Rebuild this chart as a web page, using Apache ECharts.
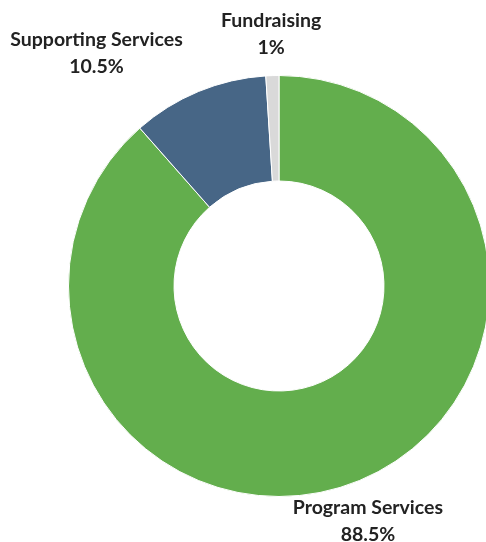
<!DOCTYPE html>
<html>
<head>
<meta charset="utf-8">
<script src="https://cdn.jsdelivr.net/npm/echarts@6/dist/echarts.min.js"></script>
<style>
html,body{margin:0;padding:0;background:#fff;}
#main{width:486px;height:542px;}
</style>
</head>
<body>
<div id="main"></div>
<script>
const categories = ['Program Services', 'Supporting Services', 'Fundraising'];
const values = [88.5, 10.5, 1];
const colors = ['#63ae4d', '#476686', '#d9d9d9'];

const CX = 279, CY = 286, R_OUT = 210.5, R_IN = 105, LABEL_DIST = 41;

const total = values.reduce((a, b) => a + b, 0);
function midAngle(i) {
  let cum = 0;
  for (let k = 0; k < i; k++) cum += values[k];
  return ((cum + values[i] / 2) / total) * 2 * Math.PI; // clockwise from top
}

const chart = echarts.init(document.getElementById('main'), null, {renderer: 'canvas'});
chart.setOption({
  animation: false,
  series: [{
    type: 'pie',
    center: [CX, CY],
    radius: [R_IN, R_OUT],
    startAngle: 90,
    clockwise: true,
    avoidLabelOverlap: false,
    emphasis: {disabled: true},
    itemStyle: {borderColor: '#fff', borderWidth: 1},
    label: {
      show: true,
      position: 'outside',
      formatter: '{b}\n{c}%',
      fontFamily: 'Lato',
      fontWeight: 'bold',
      fontSize: 19.5,
      lineHeight: 27,
      color: '#222'
    },
    labelLine: {show: false},
    labelLayout: function (params) {
      const a = midAngle(params.dataIndex);
      const s = Math.sin(a), c = Math.cos(a);
      const d = R_OUT + LABEL_DIST;
      let x = CX + d * s;
      const y = CY - d * c;
      const w = params.labelRect.width;
      if (s > 0.37) x += w / 2;
      else if (s < -0.37) x -= w / 2;
      return {x: x, y: y, align: 'center', verticalAlign: 'middle'};
    },
    data: categories.map((n, i) => ({name: n, value: values[i], itemStyle: {color: colors[i]}}))
  }]
});
</script>
</body>
</html>
